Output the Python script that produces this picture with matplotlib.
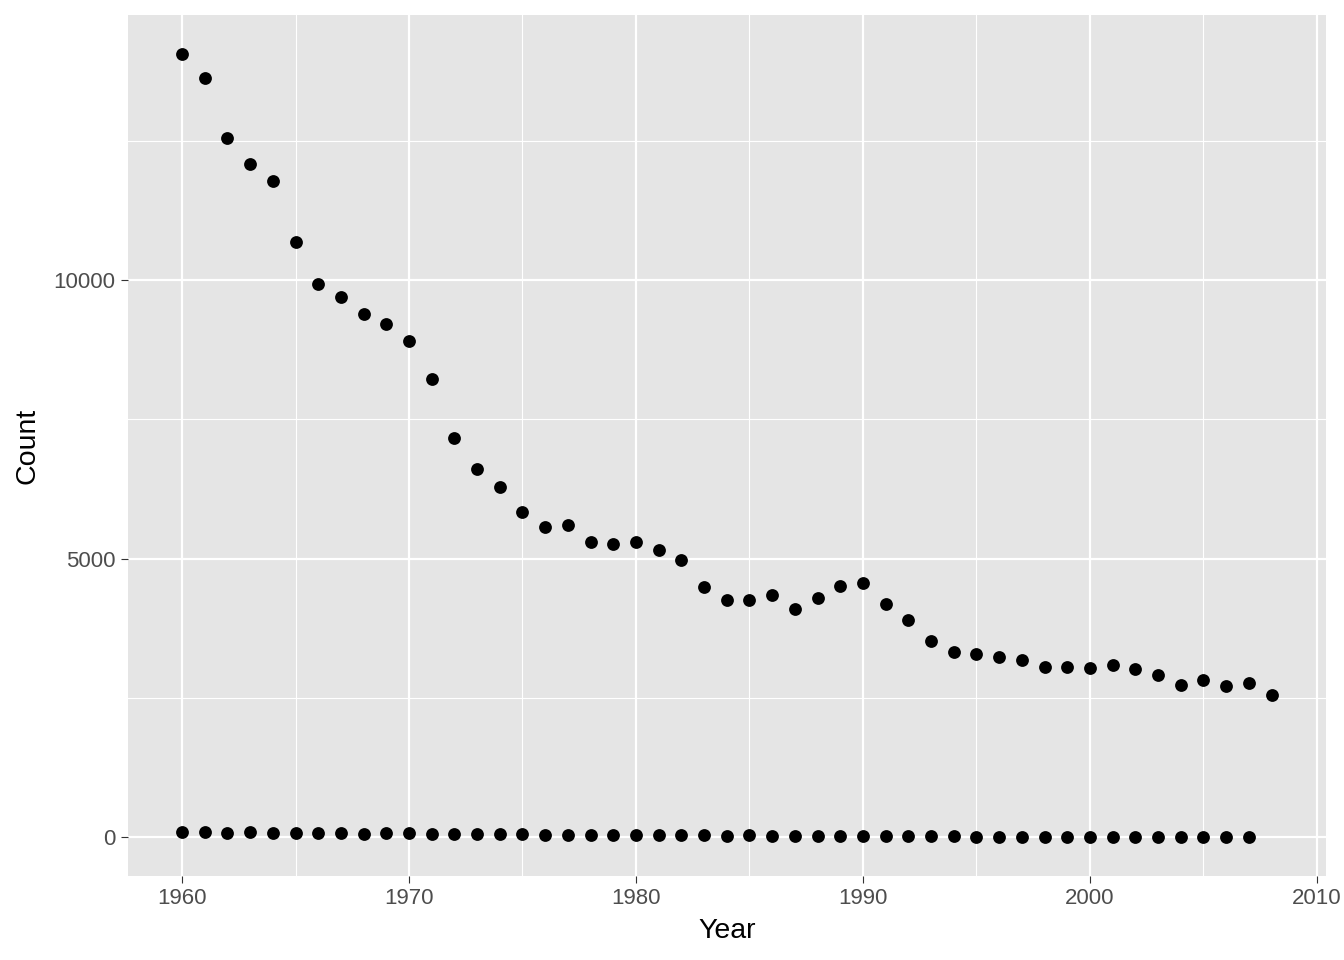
import matplotlib
matplotlib.use("Agg")
import matplotlib.pyplot as plt
from matplotlib.ticker import MultipleLocator

years_upper = list(range(1960, 2009))
count_upper = [14060, 13640, 12555, 12085, 11790, 10680, 9940, 9700, 9390, 9205,
               8915, 8225, 7165, 6605, 6285, 5840, 5560, 5600, 5295, 5260,
               5295, 5160, 4985, 4490, 4260, 4255, 4345, 4090, 4300, 4512,
               4570, 4183, 3890, 3513, 3316, 3280, 3226, 3178, 3047, 3047,
               3040, 3083, 3016, 2908, 2735, 2824, 2705, 2759, 2555]

years_lower = list(range(1960, 2008))
count_lower = [85, 95, 70, 90, 75, 80, 75, 80, 65, 75,
               70, 60, 55, 55, 55, 50, 30, 45, 35, 45,
               35, 35, 45, 30, 25, 30, 25, 28, 25, 20,
               15, 15, 12, 12, 12, 10, 10, 8, 8, 8,
               8, 8, 6, 6, 6, 5, 5, 5]

x_ticks = [1960, 1970, 1980, 1990, 2000, 2010]
y_ticks = [0, 5000, 10000]

plt.rcParams['font.family'] = ['Liberation Sans', 'DejaVu Sans']

fig = plt.figure(figsize=(13.44, 9.6), dpi=100)
ax = fig.add_axes([0.0949, 0.0875, 0.9866 - 0.0949, 0.9844 - 0.0875])
ax.set_facecolor('#E5E5E5')
for s in ax.spines.values():
    s.set_visible(False)

ax.scatter(years_upper, count_upper, s=85, color='black', linewidths=0, zorder=3)
ax.scatter(years_lower, count_lower, s=85, color='black', linewidths=0, zorder=3)

xmin, xmax = 1960, 2008
xr = xmax - xmin
ax.set_xlim(xmin - 0.05 * xr, xmax + 0.05 * xr)
ymin, ymax = min(count_lower), max(count_upper)
yr = ymax - ymin
ax.set_ylim(ymin - 0.05 * yr, ymax + 0.05 * yr)

ax.set_xticks(x_ticks)
ax.set_yticks(y_ticks)
ax.set_xticklabels([str(v) for v in x_ticks])
ax.set_yticklabels([str(v) for v in y_ticks])
ax.xaxis.set_minor_locator(MultipleLocator(5))
ax.yaxis.set_minor_locator(MultipleLocator(2500))

ax.grid(which='major', color='white', linewidth=1.6, zorder=0)
ax.grid(which='minor', color='white', linewidth=0.8, zorder=0)
ax.set_axisbelow(True)

ax.tick_params(which='major', length=5.3, width=0.8, color='#333333',
               labelsize=16, labelcolor='#4D4D4D', pad=3.5)
ax.tick_params(which='minor', length=0)

ax.set_xlabel('Year', fontsize=20.5, color='black', labelpad=6)
ax.set_ylabel('Count', fontsize=20.5, color='black', labelpad=9)

fig.savefig('out.png', dpi=100, facecolor='white')
